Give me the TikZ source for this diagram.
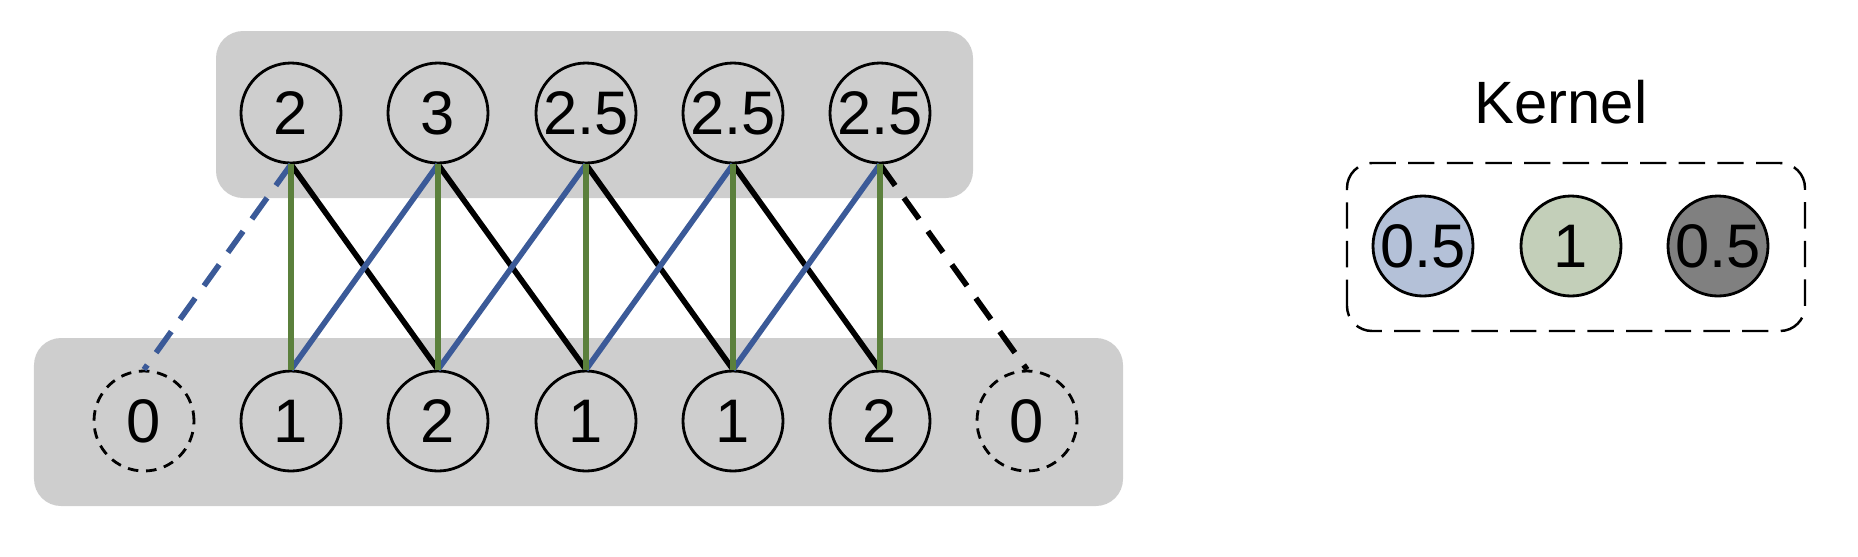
\documentclass[tikz,border=0pt]{standalone}
\usepackage{fontspec}
\setmainfont{Liberation Sans}
\usepackage{tikz}

\definecolor{boxgray}{RGB}{206,206,206}
\definecolor{edgeblue}{RGB}{59,90,152}
\definecolor{edgegreen}{RGB}{91,128,60}
\definecolor{kblue}{RGB}{180,193,216}
\definecolor{kgreen}{RGB}{195,207,185}
\definecolor{kgray}{RGB}{128,128,128}

\begin{document}
\begin{tikzpicture}[
	cell/.style={circle, draw=black, line width=0.8pt, minimum size=1cm, inner sep=0pt, font=\fontsize{17.5}{20}\selectfont},
	padcell/.style={cell, dash pattern=on 3pt off 2.2pt},
	link/.style={line width=1.6pt},
	padlink/.style={link, dash pattern=on 7.4pt off 4.3pt}
]
\useasboundingbox (0,0) rectangle (18.58,5.56);
% gray rows
	\fill[color=boxgray, rounded corners=0.27cm] (2.16,3.58) rectangle (9.73,5.25);
	\fill[color=boxgray, rounded corners=0.27cm] (0.34,0.50) rectangle (11.23,2.18);
% output row
	\node[cell] (out1) at (2.91,4.43) {2};
	\node[cell] (out2) at (4.38,4.43) {3};
	\node[cell] (out3) at (5.86,4.43) {2.5};
	\node[cell] (out4) at (7.33,4.43) {2.5};
	\node[cell] (out5) at (8.80,4.43) {2.5};
% input row
	\node[padcell] (in0) at (1.44,1.35) {0};
	\node[cell] (in1) at (2.91,1.35) {1};
	\node[cell] (in2) at (4.38,1.35) {2};
	\node[cell] (in3) at (5.86,1.35) {1};
	\node[cell] (in4) at (7.33,1.35) {1};
	\node[cell] (in5) at (8.80,1.35) {2};
	\node[padcell] (in6) at (10.27,1.35) {0};
% right weights
	\draw[link, color=black] (out1.south) -- (in2.north);
	\draw[link, color=black] (out2.south) -- (in3.north);
	\draw[link, color=black] (out3.south) -- (in4.north);
	\draw[link, color=black] (out4.south) -- (in5.north);
	\draw[padlink, color=black] (out5.south) -- (in6.north);
% left weights
	\draw[padlink, color=edgeblue] (out1.south) -- (in0.north);
	\draw[link, color=edgeblue] (out2.south) -- (in1.north);
	\draw[link, color=edgeblue] (out3.south) -- (in2.north);
	\draw[link, color=edgeblue] (out4.south) -- (in3.north);
	\draw[link, color=edgeblue] (out5.south) -- (in4.north);
% centre weights
	\draw[link, color=edgegreen] (out1.south) -- (in1.north);
	\draw[link, color=edgegreen] (out2.south) -- (in2.north);
	\draw[link, color=edgegreen] (out3.south) -- (in3.north);
	\draw[link, color=edgegreen] (out4.south) -- (in4.north);
	\draw[link, color=edgegreen] (out5.south) -- (in5.north);
% kernel
	\node[anchor=base, font=\fontsize{17}{20}\selectfont] (ktitle) at (15.61,4.33) {Kernel};
	\draw[line width=0.7pt, dash pattern=on 7.5pt off 3.5pt, rounded corners=0.25cm] (13.47,2.25) rectangle (18.05,3.93);
	\node[cell, fill=kblue] (k1) at (14.23,3.10) {0.5};
	\node[cell, fill=kgreen] (k2) at (15.71,3.10) {1};
	\node[cell, fill=kgray] (k3) at (17.18,3.10) {0.5};
\end{tikzpicture}
\end{document}
